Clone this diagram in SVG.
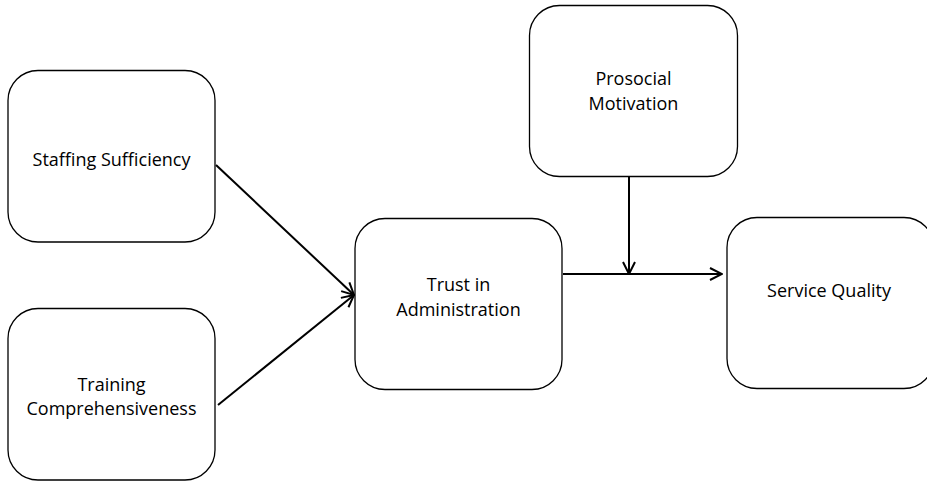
<svg xmlns="http://www.w3.org/2000/svg" width="927" height="481" viewBox="0 0 927 481">
<style>
.box{fill:#fff;stroke:#000;stroke-width:1.3}
.lbl{font-family:"Open Sans","Liberation Sans",sans-serif;font-size:18px;fill:#000;text-anchor:middle}
.con{fill:none;stroke:#000;stroke-width:2}
</style>
<defs>
<marker id="ah" viewBox="0 0 14 14" refX="13" refY="7" markerWidth="14" markerHeight="14" markerUnits="userSpaceOnUse" orient="auto">
<path d="M1,1 L13,7 L1,13" fill="none" stroke="#000" stroke-width="2"/>
</marker>
</defs>
<rect width="927" height="481" fill="#fff"/>
<g id="connectors">
<line class="con" x1="216" y1="165" x2="354" y2="295" marker-end="url(#ah)"/>
<line class="con" x1="218" y1="405" x2="354" y2="295" marker-end="url(#ah)"/>
<line class="con" x1="563" y1="274" x2="722" y2="274" marker-end="url(#ah)"/>
<line class="con" x1="629" y1="177" x2="629" y2="274" marker-end="url(#ah)"/>
</g>
<g id="staffing">
<rect class="box" x="8" y="70.5" width="207" height="171.5" rx="30"/>
<text class="lbl" x="111.5" y="166">Staffing Sufficiency</text>
</g>
<g id="training">
<rect class="box" x="8" y="308.5" width="207" height="171.5" rx="30"/>
<text class="lbl" x="111.5" y="391">Training</text>
<text class="lbl" x="111.5" y="415">Comprehensiveness</text>
</g>
<g id="trust">
<rect class="box" x="355" y="218.5" width="207" height="171" rx="30"/>
<text class="lbl" x="458.5" y="291">Trust in</text>
<text class="lbl" x="458.5" y="316">Administration</text>
</g>
<g id="prosocial">
<rect class="box" x="529.5" y="5.5" width="208" height="171" rx="30"/>
<text class="lbl" x="633.5" y="85">Prosocial</text>
<text class="lbl" x="633.5" y="110">Motivation</text>
</g>
<g id="service">
<rect class="box" x="727" y="217.5" width="207" height="171" rx="30"/>
<text class="lbl" x="829" y="297">Service Quality</text>
</g>
</svg>
